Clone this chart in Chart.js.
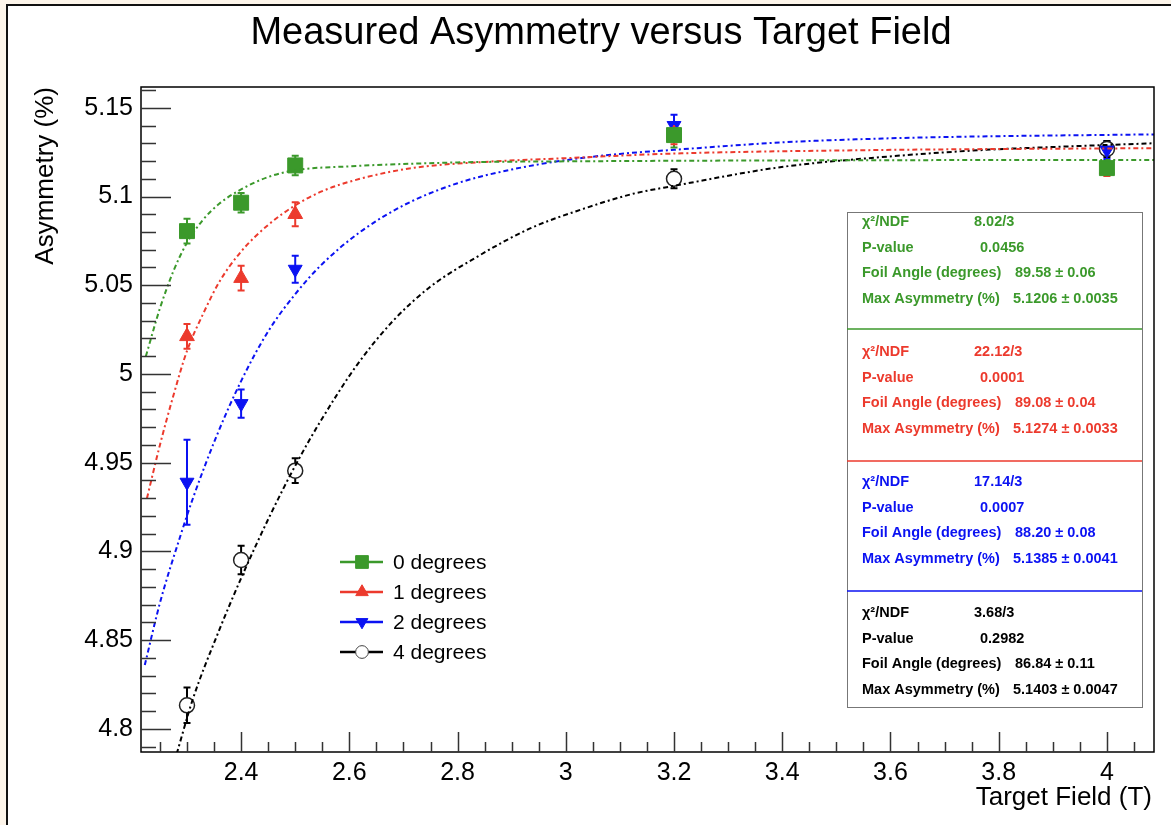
<!DOCTYPE html>
<html>
<head>
<meta charset="utf-8">
<script src="https://cdn.jsdelivr.net/npm/chart.js@4.4.1/dist/chart.umd.min.js"></script>
<style>
  html, body { margin: 0; padding: 0; background: #fdf5ea; }
  #wrap { position: relative; width: 1171px; height: 825px; }
</style>
</head>
<body>
<div id="wrap"><canvas id="chart" width="1171" height="825"></canvas></div>
<script>
// measured points
const fieldValues = [2.3, 2.4, 2.5, 3.2, 4.0];
const seriesNames = ['0 degrees', '1 degrees', '2 degrees', '4 degrees'];
const seriesColors = ['#3b992b', '#ec3a2d', '#0b12f2', '#000000'];

const asym0 = [5.0805, 5.0965, 5.1175, 5.1346, 5.1160];
const err0 = [0.0070, 0.0055, 0.0055, 0.0070, 0.0040];
const asym1 = [5.0212, 5.0540, 5.0900, 5.1355, 5.1155];
const err1 = [0.0070, 0.0070, 0.0068, 0.0060, 0.0040];
const asym2 = [4.9390, 4.9833, 5.0590, 5.1400, 5.1262];
const err2 = [0.0240, 0.0080, 0.0076, 0.0060, 0.0050];
const asym4 = [4.8133, 4.8952, 4.9455, 5.1100, 5.1268];
const err4 = [0.0100, 0.0080, 0.0070, 0.0054, 0.0045];

// fit curves
const fitX0 = [2.224, 2.25, 2.275, 2.30, 2.33, 2.36, 2.40, 2.45, 2.50, 2.60, 2.80, 3.0, 3.5, 4.087];
const fitY0 = [5.010, 5.037, 5.058, 5.074, 5.087, 5.096, 5.104, 5.111, 5.1148, 5.117, 5.1192, 5.1198, 5.1204, 5.1206];
const fitX1 = [2.226, 2.25, 2.275, 2.30, 2.33, 2.36, 2.40, 2.45, 2.50, 2.55, 2.62, 2.72, 2.85, 3.0, 3.2, 3.58, 3.944, 4.087];
const fitY1 = [4.930, 4.960, 4.988, 5.013, 5.034, 5.052, 5.069, 5.084, 5.095, 5.103, 5.110, 5.1162, 5.1195, 5.1216, 5.1242, 5.1262, 5.1270, 5.1272];
const fitX2 = [2.222, 2.25, 2.287, 2.311, 2.356, 2.40, 2.45, 2.50, 2.55, 2.62, 2.70, 2.80, 2.90, 3.0, 3.1, 3.2, 3.4, 3.6, 3.8, 4.0, 4.087];
const fitY2 = [4.836, 4.871, 4.908, 4.930, 4.966, 4.996, 5.024, 5.045, 5.062, 5.080, 5.095, 5.1075, 5.1152, 5.1205, 5.124, 5.1263, 5.1305, 5.1328, 5.134, 5.1347, 5.135];
const fitX4 = [2.281, 2.311, 2.356, 2.403, 2.453, 2.503, 2.546, 2.614, 2.681, 2.749, 2.836, 2.934, 3.032, 3.124, 3.2, 3.396, 3.58, 3.765, 3.944, 4.087];
const fitY4 = [4.786, 4.817, 4.853, 4.887, 4.920, 4.950, 4.973, 5.005, 5.030, 5.049, 5.066, 5.082, 5.093, 5.1015, 5.106, 5.1165, 5.1221, 5.1261, 5.1284, 5.130];

// fit results box
const chiNdf = ['8.02/3', '22.12/3', '17.14/3', '3.68/3'];
const pValues = ['0.0456', '0.0001', '0.0007', '0.2982'];
const foilAngles = ['89.58 \u00b1 0.06', '89.08 \u00b1 0.04', '88.20 \u00b1 0.08', '86.84 \u00b1 0.11'];
const maxAsym = ['5.1206 \u00b1 0.0035', '5.1274 \u00b1 0.0033', '5.1385 \u00b1 0.0041', '5.1403 \u00b1 0.0047'];

const FONT = '"Liberation Sans", Arial, Helvetica, sans-serif';
Chart.defaults.font.family = FONT;

const asymSets = [asym0, asym1, asym2, asym4];
const errSets = [err0, err1, err2, err4];
const fitXs = [fitX0, fitX1, fitX2, fitX4];
const fitYs = [fitY0, fitY1, fitY2, fitY4];

const markers = [
  { pointStyle: 'rect', radius: 10.6, rotation: 0, fill: seriesColors[0] },
  { pointStyle: 'triangle', radius: 8.5, rotation: 0, fill: seriesColors[1] },
  { pointStyle: 'triangle', radius: 8, rotation: 180, fill: seriesColors[2] },
  { pointStyle: 'circle', radius: 7.5, rotation: 0, fill: '#ffffff' }
];

const fitDatasets = fitXs.map((xs, s) => ({
  label: 'fit ' + seriesNames[s],
  data: xs.map((x, i) => ({ x: x, y: fitYs[s][i] })),
  showLine: true,
  pointRadius: 0,
  borderColor: seriesColors[s],
  borderWidth: 2,
  borderDash: [5, 3, 2, 3],
  cubicInterpolationMode: 'monotone',
  fill: false
}));

const pointDatasets = asymSets.map((vals, s) => ({
  label: seriesNames[s],
  data: fieldValues.map((x, i) => ({ x: x, y: vals[i] })),
  showLine: false,
  pointStyle: markers[s].pointStyle,
  pointRadius: markers[s].radius,
  pointRotation: markers[s].rotation,
  backgroundColor: markers[s].fill,
  borderColor: s === 3 ? '#222222' : seriesColors[s],
  borderWidth: s === 3 ? 1.5 : 1
}));

const rootDecor = {
  id: 'rootDecor',
  beforeDraw(chart) {
    const ctx = chart.ctx;
    ctx.save();
    ctx.fillStyle = '#fdf5ea';
    ctx.fillRect(0, 0, chart.width, chart.height);
    ctx.fillStyle = '#ffffff';
    ctx.fillRect(7, 5, chart.width - 7, chart.height - 5);
    ctx.strokeStyle = '#111111';
    ctx.lineWidth = 2;
    ctx.beginPath();
    ctx.moveTo(7, chart.height);
    ctx.lineTo(7, 5);
    ctx.lineTo(chart.width, 5);
    ctx.stroke();
    ctx.restore();
  },
  beforeDatasetsDraw(chart) {
    // error bars under the markers
    const ctx = chart.ctx;
    const xs = chart.scales.x, ys = chart.scales.y;
    const area = chart.chartArea;
    ctx.save();
    ctx.beginPath();
    ctx.rect(area.left, area.top, area.right - area.left, area.bottom - area.top);
    ctx.clip();
    ctx.lineWidth = 2;
    asymSets.forEach((vals, s) => {
      ctx.strokeStyle = seriesColors[s];
      vals.forEach((v, i) => {
        const px = xs.getPixelForValue(fieldValues[i]);
        const lo = ys.getPixelForValue(v - errSets[s][i]);
        const hi = ys.getPixelForValue(v + errSets[s][i]);
        ctx.beginPath();
        ctx.moveTo(px, lo);
        ctx.lineTo(px, hi);
        ctx.moveTo(px - 3.5, lo);
        ctx.lineTo(px + 3.5, lo);
        ctx.moveTo(px - 3.5, hi);
        ctx.lineTo(px + 3.5, hi);
        ctx.stroke();
      });
    });
    ctx.restore();
  },
  afterDraw(chart) {
    const ctx = chart.ctx;
    const xs = chart.scales.x, ys = chart.scales.y;
    const a = chart.chartArea;
    ctx.save();

    // frame
    ctx.strokeStyle = '#000000';
    ctx.lineWidth = 1.5;
    ctx.strokeRect(a.left, a.top, a.right - a.left, a.bottom - a.top);

    // ticks pointing inward, ROOT style
    ctx.strokeStyle = '#333333';
    ctx.lineWidth = 1.5;
    ctx.beginPath();
    for (let k = 0; k <= 40; k++) {
      const v = Math.round((2.2 + k * 0.05) * 100) / 100;
      if (v <= xs.min || v >= xs.max) continue;
      const px = Math.round(xs.getPixelForValue(v)) + 0.5;
      const major = Math.abs(v * 5 - Math.round(v * 5)) < 1e-6;
      ctx.moveTo(px, a.bottom);
      ctx.lineTo(px, a.bottom - (major ? 20 : 10));
    }
    for (let k = 0; k <= 40; k++) {
      const v = Math.round((4.78 + k * 0.01) * 100) / 100;
      if (v <= ys.min || v >= ys.max) continue;
      const py = Math.round(ys.getPixelForValue(v)) + 0.5;
      const major = Math.abs(v * 20 - Math.round(v * 20)) < 1e-6;
      ctx.moveTo(a.left, py);
      ctx.lineTo(a.left + (major ? 30 : 15), py);
    }
    ctx.stroke();

    // title and axis titles
    ctx.fillStyle = '#000000';
    ctx.font = '38px ' + FONT;
    ctx.textAlign = 'center';
    ctx.textBaseline = 'middle';
    ctx.fillText('Measured Asymmetry versus Target Field', 601, 34);

    ctx.font = '26px ' + FONT;
    ctx.textAlign = 'right';
    ctx.fillText('Target Field (T)', 1152, 798);

    ctx.save();
    ctx.translate(46, 87);
    ctx.rotate(-Math.PI / 2);
    ctx.textAlign = 'right';
    ctx.fillText('Asymmetry (%)', 0, 0);
    ctx.restore();

    // legend
    const legY = [562, 592, 622, 652];
    ctx.font = '21px ' + FONT;
    ctx.textAlign = 'left';
    seriesNames.forEach((name, s) => {
      const y = legY[s];
      ctx.strokeStyle = s === 3 ? '#000000' : seriesColors[s];
      ctx.lineWidth = 2.5;
      ctx.beginPath();
      ctx.moveTo(340, y);
      ctx.lineTo(383, y);
      ctx.stroke();
      ctx.fillStyle = markers[s].fill;
      ctx.strokeStyle = s === 3 ? '#444444' : seriesColors[s];
      ctx.lineWidth = 1;
      Chart.helpers.drawPoint(ctx, {
        pointStyle: markers[s].pointStyle,
        radius: markers[s].radius * 0.85,
        rotation: markers[s].rotation,
        borderWidth: 1
      }, 362, y);
      ctx.fillStyle = '#000000';
      ctx.fillText(name, 393, y + 1);
    });

    // fit results box
    const boxL = 847, boxR = 1142, boxT = 212, boxB = 707;
    ctx.fillStyle = '#ffffff';
    ctx.fillRect(boxL, boxT, boxR - boxL, boxB - boxT);
    ctx.strokeStyle = '#777777';
    ctx.lineWidth = 1;
    ctx.strokeRect(boxL + 0.5, boxT + 0.5, boxR - boxL, boxB - boxT);
    const dividers = [329, 461, 591];
    dividers.forEach((dy, s) => {
      ctx.strokeStyle = seriesColors[s];
      ctx.lineWidth = 1.5;
      ctx.beginPath();
      ctx.moveTo(boxL, dy);
      ctx.lineTo(boxR, dy);
      ctx.stroke();
    });
    const rowStart = [222, 352, 482, 613];
    ctx.font = 'bold 14.5px ' + FONT;
    ctx.textBaseline = 'middle';
    ctx.textAlign = 'left';
    seriesNames.forEach((name, s) => {
      ctx.fillStyle = seriesColors[s];
      const y0 = rowStart[s];
      const rows = [
        ['\u03c7\u00b2/NDF', chiNdf[s], 974],
        ['P-value', pValues[s], 980],
        ['Foil Angle (degrees)', foilAngles[s], 1015],
        ['Max Asymmetry (%)', maxAsym[s], 1013]
      ];
      rows.forEach((r, k) => {
        const y = y0 + k * 25.7;
        ctx.fillText(r[0], 862, y);
        ctx.fillText(r[1], r[2], y);
      });
    });

    ctx.restore();
  }
};

const fmt = (v) => String(parseFloat(Number(v).toFixed(2)));

new Chart(document.getElementById('chart'), {
  type: 'scatter',
  data: { datasets: fitDatasets.concat(pointDatasets) },
  options: {
    responsive: false,
    animation: false,
    layout: { padding: { left: 0, top: 87, right: 17, bottom: 0 } },
    plugins: {
      legend: { display: false },
      tooltip: { enabled: false },
      title: { display: false }
    },
    scales: {
      x: {
        type: 'linear',
        min: 2.215,
        max: 4.087,
        afterFit: (s) => { s.height = 73; },
        grid: { display: false, drawTicks: false },
        border: { display: false },
        ticks: {
          stepSize: 0.2,
          includeBounds: false,
          autoSkip: false,
          maxRotation: 0,
          padding: 6,
          color: '#000000',
          font: { size: 25 },
          callback: fmt
        }
      },
      y: {
        type: 'linear',
        min: 4.787,
        max: 5.1617,
        afterFit: (s) => { s.width = 141; },
        grid: { display: false, drawTicks: false },
        border: { display: false },
        ticks: {
          stepSize: 0.05,
          includeBounds: false,
          autoSkip: false,
          padding: 8,
          color: '#000000',
          font: { size: 25 },
          callback: fmt
        }
      }
    }
  },
  plugins: [rootDecor]
});
</script>
</body>
</html>
